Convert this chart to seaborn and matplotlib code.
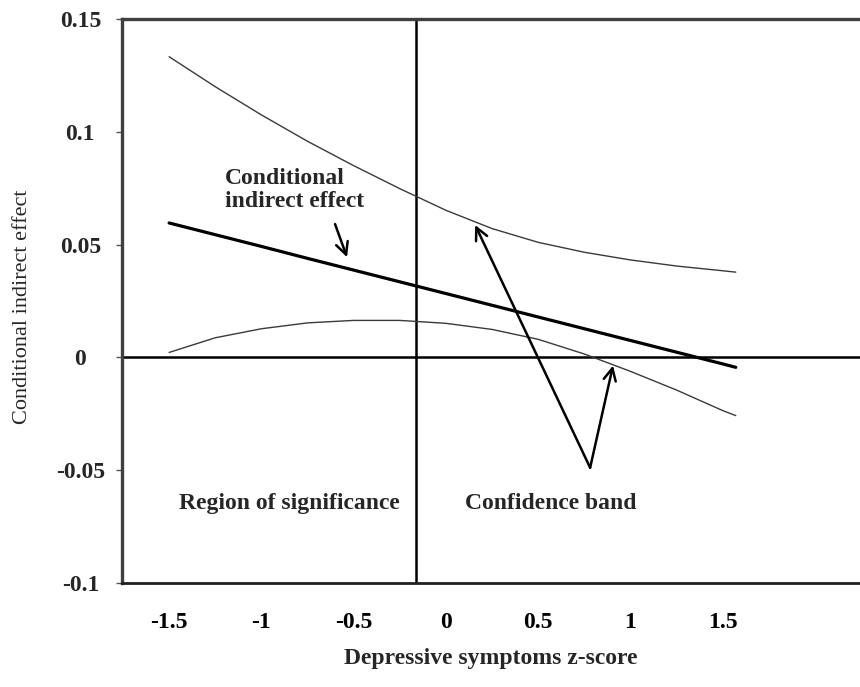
import matplotlib
matplotlib.use("Agg")
import matplotlib.pyplot as plt
import pandas as pd
import seaborn as sns

# ---- data ----
z_score = [-1.5, -1.25, -1.0, -0.75, -0.5, -0.25, 0.0, 0.25, 0.5, 0.75, 1.0, 1.25, 1.5, 1.57]
effect = [0.0596, 0.0544, 0.0492, 0.0439, 0.0387, 0.0335, 0.0283, 0.0231, 0.0179,
          0.0127, 0.0075, 0.0023, -0.0029, -0.0044]
upper_ci = [0.1333, 0.1200, 0.1075, 0.0958, 0.0850, 0.0748, 0.0652, 0.0571, 0.0510,
            0.0466, 0.0432, 0.0405, 0.0384, 0.0378]
lower_ci = [0.0022, 0.0087, 0.0127, 0.0153, 0.0164, 0.0164, 0.0151, 0.0124, 0.0080,
            0.0015, -0.0062, -0.0145, -0.0236, -0.0258]

x_ticks = [-1.5, -1.0, -0.5, 0.0, 0.5, 1.0, 1.5]
x_tick_labels = ["-1.5", "-1", "-0.5", "0", "0.5", "1", "1.5"]
y_ticks = [-0.1, -0.05, 0.0, 0.05, 0.1, 0.15]
y_tick_labels = ["-0.1", "-0.05", "0", "0.05", "0.1", "0.15"]
region_boundary = -0.16

df = pd.DataFrame({"z": z_score, "effect": effect, "upper": upper_ci, "lower": lower_ci})

sns.set_theme(style="white")
plt.rcParams["font.family"] = ["Liberation Serif", "DejaVu Serif"]

fig = plt.figure(figsize=(8.6, 6.87), dpi=100)
ax = fig.add_axes([0.1419, 0.1514, 0.8581, 0.8209])

sns.lineplot(data=df, x="z", y="upper", ax=ax, color="#3a3a3a", linewidth=1.0)
sns.lineplot(data=df, x="z", y="lower", ax=ax, color="#3a3a3a", linewidth=1.0)
sns.lineplot(data=df, x="z", y="effect", ax=ax, color="black", linewidth=2.3)

ax.axhline(0, color="black", linewidth=1.8, zorder=1)
ax.axvline(region_boundary, color="black", linewidth=1.8, zorder=1)

ax.set_xlim(-1.755, 2.243)
ax.set_ylim(-0.1, 0.15)

ax.set_xticks(x_ticks)
ax.set_xticklabels(x_tick_labels, fontsize=17, fontweight="bold")
ax.set_yticks(y_ticks)
ax.set_yticklabels(y_tick_labels, fontsize=17, fontweight="bold")
for lbl in ax.get_yticklabels():
    lbl.set_horizontalalignment("center")

ax.tick_params(axis="x", length=0, pad=21, colors="black")
ax.tick_params(axis="y", length=4, width=1, color="#555555", pad=26, left=True)

ax.set_xlabel("Depressive symptoms z-score", fontsize=17, fontweight="bold", labelpad=11)
ax.set_ylabel("Conditional indirect effect", fontsize=16)
ax.yaxis.set_label_coords(-0.1355, 0.49)
ax.yaxis.label.set_verticalalignment("center")

for side in ["left", "top"]:
    ax.spines[side].set_color("#404040")
    ax.spines[side].set_linewidth(2.4)
ax.spines["bottom"].set_color("#202020")
ax.spines["bottom"].set_linewidth(2.0)
ax.spines["right"].set_visible(False)

# ---- annotations ----
ax.text(-1.196, 0.0742, "Conditional\nindirect effect", fontsize=17, fontweight="bold",
        ha="left", va="center", linespacing=1.15, multialignment="left")
ax.text(-0.850, -0.0649, "Region of significance", fontsize=17, fontweight="bold",
        ha="center", va="center")
ax.text(0.569, -0.0649, "Confidence band", fontsize=17, fontweight="bold",
        ha="center", va="center")

arrow_kw = dict(arrowstyle="->", lw=1.8, color="black", mutation_scale=22,
                shrinkA=0, shrinkB=0)
ax.annotate("", xy=(-0.536, 0.0444), xytext=(-0.601, 0.0591), arrowprops=arrow_kw)
ax.annotate("", xy=(0.158, 0.0587), xytext=(0.781, -0.0489), arrowprops=arrow_kw)
ax.annotate("", xy=(0.905, -0.0036), xytext=(0.781, -0.0489), arrowprops=arrow_kw)

ax.grid(False)
fig.savefig("out.png", dpi=100)
